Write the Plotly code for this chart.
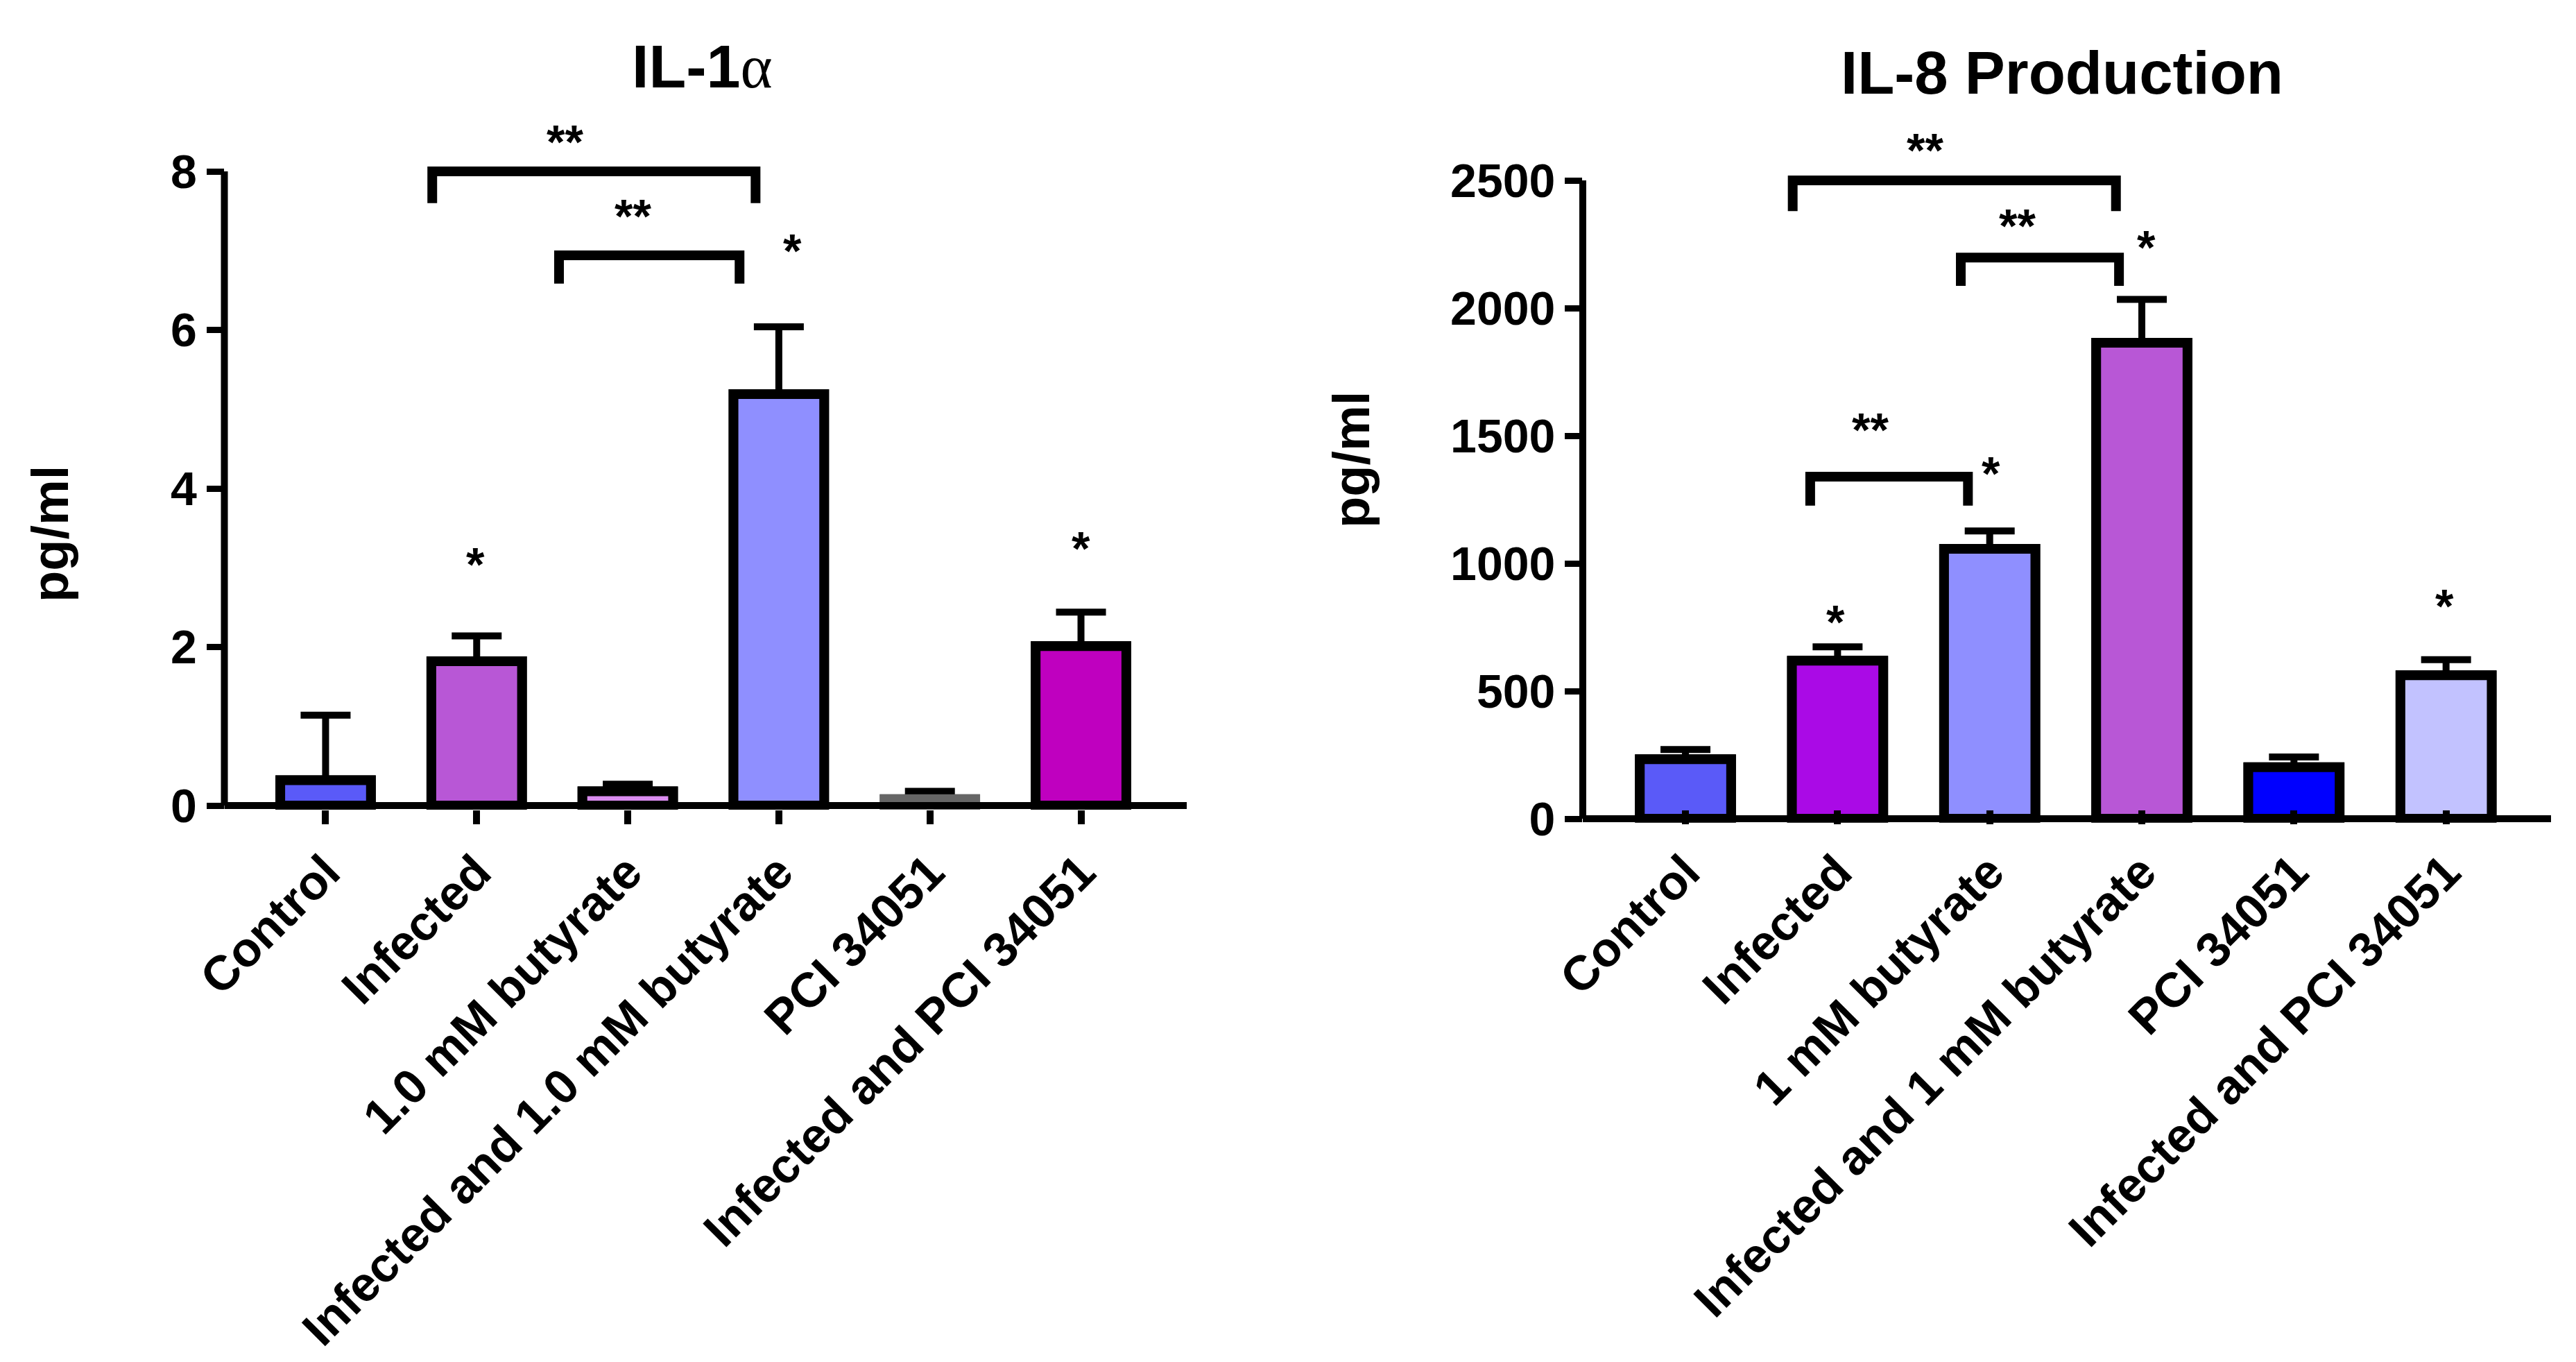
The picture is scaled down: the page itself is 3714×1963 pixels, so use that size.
import plotly.graph_objects as go

# ---------------- data ----------------
categories_il1a = ["Control", "Infected", "1.0 mM butyrate",
                   "Infected and 1.0 mM butyrate", "PCI 34051", "Infected and PCI 34051"]
values_il1a = [0.32, 1.82, 0.18, 5.19, 0.08, 2.01]
err_il1a = [0.82, 0.32, 0.09, 0.85, 0.10, 0.43]
fill_il1a = ["#5A5AF8", "#B857D6", "#DA8CF0", "#8F8FFF", "#666666", "#BF00BF"]
edge_il1a = ["black", "black", "black", "black", "#666666", "black"]
yticks_il1a = [0, 2, 4, 6, 8]

categories_il8 = ["Control", "Infected", "1 mM butyrate",
                  "Infected and 1 mM butyrate", "PCI 34051", "Infected and PCI 34051"]
values_il8 = [233, 619, 1057, 1864, 202, 562]
err_il8 = [38, 54, 70, 170, 40, 61]
fill_il8 = ["#5A5AF8", "#AA0AE6", "#8F8FFF", "#B857D6", "#0000FF", "#C2C2FF"]
edge_il8 = ["black"] * 6
yticks_il8 = [0, 500, 1000, 1500, 2000, 2500]

# significance brackets: (x_left, x_right, y_top, y_leg_end)
brackets_il1a = [(0.706, 2.846, 8.0, 7.6), (1.545, 2.74, 6.94, 6.585)]
brackets_il8 = [(0.705, 2.83, 2500, 2380), (1.81, 2.85, 2198, 2087), (0.82, 1.857, 1340, 1226)]
# significance marks: (x, y, text)
marks_il1a = [(1.586, 8.445, "**"), (2.034, 7.507, "**"), (3.09, 7.07, "*"),
              (0.99, 3.12, "*"), (5.0, 3.32, "*")]
marks_il8 = [(1.574, 2641, "**"), (2.18, 2345, "**"), (1.215, 1546, "**"),
             (3.03, 2261, "*"), (2.01, 1375, "*"), (0.985, 793, "*"), (4.99, 856, "*")]

# ---------------- layout constants (pixels) ----------------
W, H = 3714, 1963
FONT = "Liberation Sans, Arial, sans-serif"
LEFT = dict(x0=323.5, x1=1711, zero=1161, top=247, topval=8, ymin=-0.05, ymax=8.9,
            xr=[-0.67, 5.70])
RIGHT = dict(x0=2282, x1=3678, zero=1180, top=260, topval=2500, ymin=-15, ymax=2780,
             xr=[-0.675, 5.69])
BAR_W = 0.6


def ydomain(p):
    k = (p["zero"] - p["top"]) / p["topval"]
    bottom_px = p["zero"] - p["ymin"] * k
    top_px = p["zero"] - p["ymax"] * k
    return [(H - bottom_px) / H, (H - top_px) / H]


fig = go.Figure()


def add_panel(xa, ya, vals, errs, fills, edges):
    xs = list(range(len(vals)))
    fig.add_trace(go.Bar(
        x=xs, y=vals, width=BAR_W, xaxis=xa, yaxis=ya, showlegend=False,
        marker=dict(color=fills, line=dict(color=edges, width=14)),
        error_y=dict(type="data", array=errs, arrayminus=[0] * len(vals), symmetric=False,
                     thickness=10, width=36, color="black")))
    fig.add_trace(go.Bar(
        x=xs, y=vals, width=BAR_W, xaxis=xa, yaxis=ya, showlegend=False,
        marker=dict(color=fills, line=dict(color=edges, width=14))))


add_panel("x", "y", values_il1a, err_il1a, fill_il1a, edge_il1a)
add_panel("x2", "y2", values_il8, err_il8, fill_il8, edge_il8)

axis_font = dict(family=FONT, size=68, color="black", weight="bold")
xlab_font = dict(family=FONT, size=70, color="black", weight="bold")


def xaxis(p, cats):
    return dict(domain=[p["x0"] / W, p["x1"] / W], range=p["xr"], showline=False,
                ticks="outside", ticklen=20, tickwidth=10, tickcolor="black",
                tickvals=list(range(len(cats))), ticktext=cats, tickangle=-45,
                tickfont=xlab_font, showgrid=False, zeroline=False, fixedrange=True,
                automargin=False)


def yaxis(p, anchor, ticks):
    return dict(domain=ydomain(p), range=[p["ymin"], p["ymax"]], anchor=anchor, showline=False,
                ticks="outside", ticklen=25, tickwidth=9, tickcolor="black",
                tickvals=ticks, ticktext=[str(t) for t in ticks], tickfont=axis_font,
                showgrid=False, zeroline=False, fixedrange=True, automargin=False)


shapes = []
for xref, yref, ticks in (("x", "y", yticks_il1a), ("x2", "y2", yticks_il8)):
    # y axis line (from lowest to highest tick)
    shapes.append(dict(type="line", xref=xref + " domain", yref=yref, x0=0, x1=0,
                       y0=min(ticks), y1=max(ticks), line=dict(color="black", width=10)))
    # x axis line at the baseline
    shapes.append(dict(type="line", xref=xref + " domain", yref=yref, x0=0, x1=1,
                       y0=min(ticks), y1=min(ticks), line=dict(color="black", width=10)))
for xref, yref, brs in (("x", "y", brackets_il1a), ("x2", "y2", brackets_il8)):
    for xl, xr, yt, yb in brs:
        shapes.append(dict(type="path", xref=xref, yref=yref,
                           path=f"M {xl},{yb} L {xl},{yt} L {xr},{yt} L {xr},{yb}",
                           line=dict(color="black", width=14)))

annotations = []
for xref, yref, marks in (("x", "y", marks_il1a), ("x2", "y2", marks_il8)):
    for mx, my, txt in marks:
        annotations.append(dict(x=mx, y=my, xref=xref, yref=yref, text=txt, showarrow=False,
                                xanchor="center", yanchor="middle", yshift=-8,
                                font=dict(family=FONT, size=68, color="black", weight="bold")))

annotations.append(dict(
    x=1013 / W, y=(H - 95) / H, xref="paper", yref="paper", showarrow=False,
    xanchor="center", yanchor="middle",
    font=dict(family=FONT, size=88, color="black", weight="bold"),
    text="IL-1<span style=\"font-family:Liberation Serif;font-weight:normal\">α</span>"))
annotations.append(dict(
    x=2973 / W, y=(H - 104) / H, xref="paper", yref="paper", showarrow=False,
    xanchor="center", yanchor="middle",
    font=dict(family=FONT, size=87, color="black", weight="bold"),
    text="IL-8 Production"))

ylab_font = dict(family=FONT, size=74, color="black", weight="bold")
annotations.append(dict(x=72 / W, y=(H - 770) / H, xref="paper", yref="paper", showarrow=False,
                        textangle=-90, xanchor="center", yanchor="middle", font=ylab_font,
                        text="pg/ml"))
annotations.append(dict(x=1949 / W, y=(H - 663) / H, xref="paper", yref="paper", showarrow=False,
                        textangle=-90, xanchor="center", yanchor="middle", font=ylab_font,
                        text="pg/ml"))

fig.update_layout(
    width=W, height=H, margin=dict(l=0, r=0, t=0, b=0, pad=0, autoexpand=False),
    paper_bgcolor="white", plot_bgcolor="white", barmode="overlay",
    xaxis=xaxis(LEFT, categories_il1a), yaxis=yaxis(LEFT, "x", yticks_il1a),
    xaxis2=xaxis(RIGHT, categories_il8), yaxis2=yaxis(RIGHT, "x2", yticks_il8),
    shapes=shapes, annotations=annotations, font=dict(family=FONT, color="black"),
)

fig.write_html("out.html")
